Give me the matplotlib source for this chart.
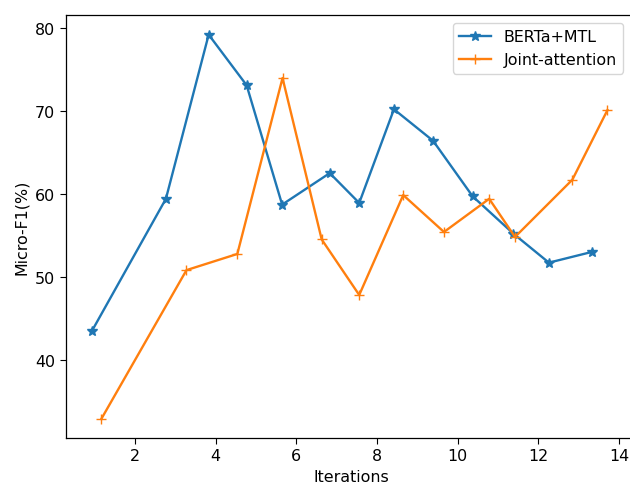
import matplotlib
matplotlib.use('Agg')
import matplotlib.pyplot as plt

# values
berta_x = [0.93, 2.77, 3.83, 4.77, 5.65, 6.83, 7.56, 8.42, 9.39, 10.37, 11.38, 12.26, 13.33]
berta_y = [43.4, 59.4, 79.2, 73.1, 58.7, 62.5, 58.9, 70.2, 66.4, 59.7, 55.2, 51.7, 53.0]

joint_x = [1.17, 3.28, 4.54, 5.66, 6.63, 7.56, 8.65, 9.66, 10.78, 11.42, 12.84, 13.71]
joint_y = [32.85, 50.8, 52.75, 73.97, 54.5, 47.8, 59.85, 55.4, 59.4, 54.8, 61.7, 70.1]

# reference looks like a default mpl plot scaled up a little
plt.rcParams['font.size'] = 11.4
plt.rcParams['lines.linewidth'] = 1.7
plt.rcParams['lines.markersize'] = 7
plt.rcParams['axes.linewidth'] = 0.9
plt.rcParams['xtick.major.size'] = 4
plt.rcParams['ytick.major.size'] = 4

fig = plt.figure(figsize=(6.3, 4.85), dpi=100)
# right spine falls just past the image edge in the reference
ax = fig.add_axes([0.104, 0.095, 0.9076, 0.872])

ax.plot(berta_x, berta_y, marker='*', label='BERTa+MTL')
ax.plot(joint_x, joint_y, marker='+', label='Joint-attention')

ax.set_xlim(0.283, 14.45)
ax.set_ylim(30.56, 81.57)
ax.set_xticks([2, 4, 6, 8, 10, 12, 14])
ax.set_yticks([40, 50, 60, 70, 80])
ax.set_xlabel('Iterations')
ax.set_ylabel('Micro-F1(%)')
ax.legend(loc='upper right', bbox_to_anchor=(0.9893, 1.0), bbox_transform=ax.transAxes)

fig.savefig('out.png', dpi=100)
